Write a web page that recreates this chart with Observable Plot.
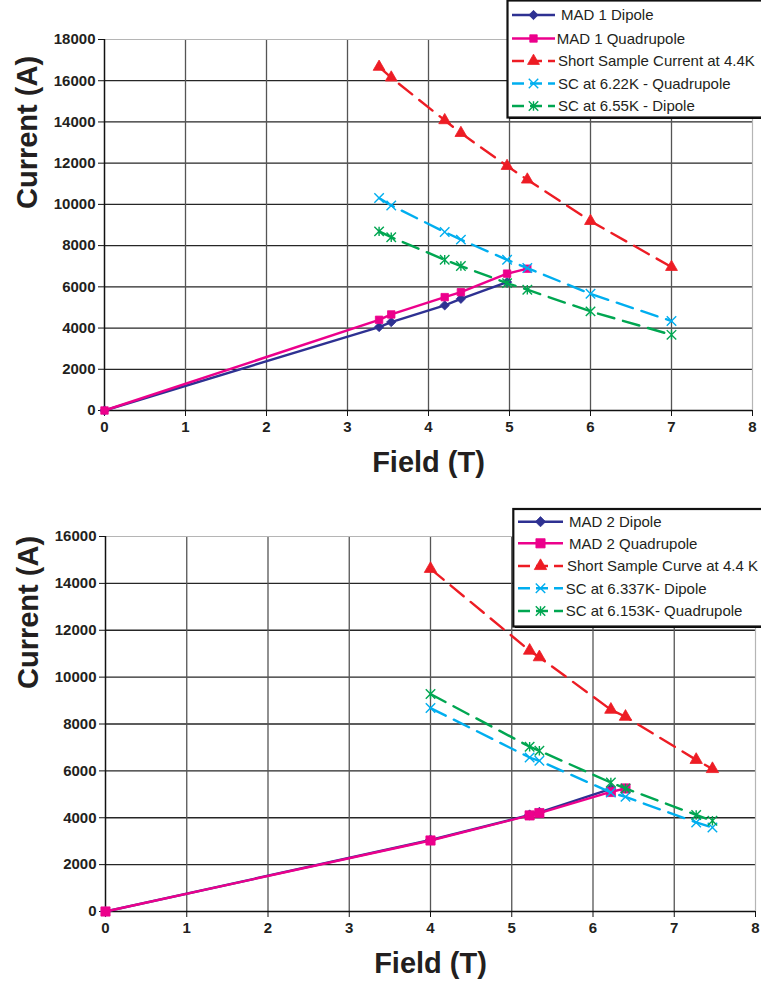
<!DOCTYPE html>
<html><head><meta charset="utf-8">
<script src="https://cdn.jsdelivr.net/npm/d3@7"></script>
<script src="https://cdn.jsdelivr.net/npm/@observablehq/plot@0.6"></script>
<style>
html,body{margin:0;padding:0;background:#fff;overflow:hidden;width:761px;height:982px;}
#wrap{position:relative;width:761px;height:982px;overflow:hidden;}
#wrap > svg{position:absolute;left:0;}
</style>
</head><body><div id="wrap"></div>
<script>
// ---------- Chart 1 data (MAD 1) ----------
const mad1DipoleField   = [0, 3.39, 3.54, 4.2, 4.4, 4.97];
const mad1DipoleCurrent = [0, 4050, 4290, 5100, 5420, 6230];
const mad1QuadField     = [0, 3.39, 3.54, 4.2, 4.4, 4.97, 5.22];
const mad1QuadCurrent   = [0, 4400, 4660, 5500, 5740, 6640, 6880];
const scField1          = [3.39, 3.54, 4.2, 4.4, 4.97, 5.22, 6, 7];
const shortSample1      = [16670, 16150, 14080, 13460, 11860, 11200, 9190, 6960];
const sc622Quad         = [10310, 9950, 8660, 8290, 7310, 6910, 5660, 4340];
const sc655Dipole       = [8690, 8410, 7310, 7010, 6180, 5860, 4810, 3670];
const legend1 = ["MAD 1 Dipole", "MAD 1 Quadrupole", "Short Sample Current at 4.4K", "SC at 6.22K - Quadrupole", "SC at 6.55K - Dipole"];

// ---------- Chart 2 data (MAD 2) ----------
const mad2DipoleField   = [0, 4, 5.22, 5.34, 6.22];
const mad2DipoleCurrent = [0, 3050, 4120, 4230, 5230];
const mad2QuadField     = [0, 4, 5.22, 5.34, 6.22, 6.4];
const mad2QuadCurrent   = [0, 3030, 4100, 4200, 5100, 5250];
const scField2          = [4, 5.22, 5.34, 6.22, 6.4, 7.27, 7.47];
const shortSample2      = [14620, 11130, 10850, 8610, 8310, 6470, 6080];
const sc6337Dipole      = [8680, 6570, 6430, 5080, 4890, 3800, 3580];
const sc6153Quad        = [9280, 7030, 6860, 5500, 5250, 4120, 3870];
const legend2 = ["MAD 2 Dipole", "MAD 2 Quadrupole", "Short Sample Curve at 4.4 K", "SC at  6.337K- Dipole", "SC at  6.153K- Quadrupole"];

// ---------- tick labels / titles ----------
const xTicks = [0, 1, 2, 3, 4, 5, 6, 7, 8];
const yTicks1 = [0, 2000, 4000, 6000, 8000, 10000, 12000, 14000, 16000, 18000];
const yTicks2 = [0, 2000, 4000, 6000, 8000, 10000, 12000, 14000, 16000];
const xTitle = "Field (T)";
const yTitle = "Current (A)";

// ---------- styling ----------
const FONT = "'Liberation Sans', Arial, Helvetica, sans-serif";
const TXT = "#231f20";
const C = {navy: "#2e3192", magenta: "#ec008c", red: "#ed1c24", cyan: "#00aeef", green: "#00a651"};
const DASH = "17,9";
const excelStar = {draw(ctx, size) {const r = Math.sqrt(size) * 0.58; ctx.moveTo(-r, -r); ctx.lineTo(r, r); ctx.moveTo(-r, r); ctx.lineTo(r, -r); ctx.moveTo(0, -r); ctx.lineTo(0, r);}};
const excelTimes = {draw(ctx, size) {const r = Math.sqrt(size) * 0.58; ctx.moveTo(-r, -r); ctx.lineTo(r, r); ctx.moveTo(-r, r); ctx.lineTo(r, -r);}};

function seriesMarks(s) {
  const marks = [];
  marks.push(Plot.line(s.y, {x: s.x, y: s.y, stroke: s.color, strokeWidth: 2.4, strokeDasharray: s.dash || null, curve: "linear"}));
  const filled = s.filled;
  marks.push(Plot.dot(s.y, {x: s.x, y: s.y, symbol: s.symbol, r: s.r,
    fill: filled ? s.color : "none", stroke: s.color, strokeWidth: filled ? 0.8 : 1.4}));
  return marks;
}

function chart({height, mt, mb, ml, mr, yMax, yTicks, yLabelDy, xLabelDy, series}) {
  return Plot.plot({
    width: 761, height, marginTop: mt, marginBottom: mb, marginLeft: ml, marginRight: mr,
    style: {fontFamily: FONT, fontSize: "15px", fontWeight: "bold", color: TXT, background: "transparent", overflow: "visible"},
    x: {domain: [0, 8]},
    y: {domain: [0, yMax]},
    marks: [
      Plot.ruleY(yTicks.filter(v => v > 0 && v < yMax), {stroke: "#262626", strokeWidth: 1.3}),
      Plot.ruleX(xTicks.filter(v => v > 0 && v < 8), {stroke: "#555", strokeWidth: 1.3}),
      Plot.ruleY([yMax], {stroke: "#b5b5b5", strokeWidth: 1.2}),
      Plot.ruleX([8], {stroke: "#b5b5b5", strokeWidth: 1.2}),
      Plot.ruleX([0], {stroke: "#111", strokeWidth: 1.5}),
      Plot.ruleY([0], {stroke: "#111", strokeWidth: 1.5}),
      Plot.axisX({ticks: xTicks, tickSize: 6, tickPadding: 5, tickFormat: d => String(d), label: null, stroke: "#111", fill: TXT}),
      Plot.axisY({ticks: yTicks, tickSize: 6, tickPadding: 3, tickFormat: d => String(d), label: null, stroke: "#111", fill: TXT}),
      Plot.text([xTitle], {text: d => d, frameAnchor: "bottom", dy: xLabelDy, fontSize: 29, fontWeight: "bold", fill: TXT, lineAnchor: "middle"}),
      Plot.text([yTitle], {text: d => d, frameAnchor: "left", dx: -77, dy: yLabelDy, rotate: -90, fontSize: 29, fontWeight: "bold", fill: TXT, lineAnchor: "middle"}),
      ...series.flatMap(seriesMarks)
    ]
  });
}

function legend(series, labels, {left, top, w, h, rx, ry, rows, x0, x1, textX}) {
  const svg = d3.create("svg").attr("width", w).attr("height", h)
    .style("position", "absolute").style("left", left + "px").style("top", top + "px")
    .style("font-family", FONT).style("font-size", "15px");
  svg.append("rect").attr("x", rx + 1.5).attr("y", ry + 1.5).attr("width", 400).attr("height", rows.h).attr("fill", "#000");
  svg.append("rect").attr("x", rx).attr("y", ry).attr("width", 400).attr("height", rows.h)
    .attr("fill", "#fff").attr("stroke", "#111").attr("stroke-width", 2.2);
  series.forEach((s, i) => {
    const y = rows.ys[i];
    const mx = (x0 + x1) / 2;
    svg.append("line").attr("x1", x0).attr("x2", x1).attr("y1", y).attr("y2", y)
      .attr("stroke", s.color).attr("stroke-width", 2.4)
      .attr("stroke-dasharray", s.dash ? "12,6" : null);
    const sym = typeof s.symbol === "string" ? {diamond2: d3.symbolDiamond2, square: d3.symbolSquare, triangle: d3.symbolTriangle}[s.symbol] : s.symbol;
    svg.append("path").attr("d", d3.symbol(sym, Math.PI * s.r * s.r)())
      .attr("transform", `translate(${mx},${y})`)
      .attr("fill", s.filled ? s.color : "none").attr("stroke", s.color).attr("stroke-width", s.filled ? 0.8 : 1.4);
    svg.append("text").attr("x", textX[i]).attr("y", y).attr("dy", "0.36em").attr("fill", TXT).text(labels[i]);
  });
  return svg.node();
}

const series1 = [
  {x: mad1DipoleField, y: mad1DipoleCurrent, color: C.navy, symbol: "diamond2", r: 4.2, filled: true},
  {x: mad1QuadField, y: mad1QuadCurrent, color: C.magenta, symbol: "square", r: 4.2, filled: true},
  {x: scField1, y: shortSample1, color: C.red, symbol: "triangle", r: 4.4, filled: true, dash: DASH},
  {x: scField1, y: sc622Quad, color: C.cyan, symbol: excelTimes, r: 4.6, filled: false, dash: DASH},
  {x: scField1, y: sc655Dipole, color: C.green, symbol: excelStar, r: 4.6, filled: false, dash: DASH}
];
const series2 = [
  {x: mad2DipoleField, y: mad2DipoleCurrent, color: C.navy, symbol: "diamond2", r: 4.6, filled: true},
  {x: mad2QuadField, y: mad2QuadCurrent, color: C.magenta, symbol: "square", r: 5.2, filled: true},
  {x: scField2, y: shortSample2, color: C.red, symbol: "triangle", r: 4.6, filled: true, dash: DASH},
  {x: scField2, y: sc6337Dipole, color: C.cyan, symbol: excelTimes, r: 4.6, filled: false, dash: DASH},
  {x: scField2, y: sc6153Quad, color: C.green, symbol: excelStar, r: 4.6, filled: false, dash: DASH}
];

const wrap = document.getElementById("wrap");
const c1 = chart({height: 490, mt: 39, mb: 80, ml: 104, mr: 9, yMax: 18000, yTicks: yTicks1, yLabelDy: -16, xLabelDy: 52, series: series1});
c1.style.top = "0px";
wrap.appendChild(c1);
const c2 = chart({height: 492, mt: 46, mb: 71, ml: 105, mr: 6, yMax: 16000, yTicks: yTicks2, yLabelDy: -35, xLabelDy: 52, series: series2});
c2.style.top = "490px";
wrap.appendChild(c2);

wrap.appendChild(legend(series1, legend1, {left: 505, top: 0, w: 256, h: 124, rx: 2.5, ry: 0.5, rows: {h: 117, ys: [15, 38.5, 61, 83.5, 106]}, x0: 7, x1: 50, textX: [56, 51.7, 53, 53, 53]}));
wrap.appendChild(legend(series2, legend2, {left: 511, top: 507, w: 250, h: 125, rx: 2.3, ry: 2, rows: {h: 117.5, ys: [14.7, 36.3, 59, 81.3, 104]}, x0: 7, x1: 52, textX: [58, 58, 56, 54.7, 54.7]}));
</script></body></html>
